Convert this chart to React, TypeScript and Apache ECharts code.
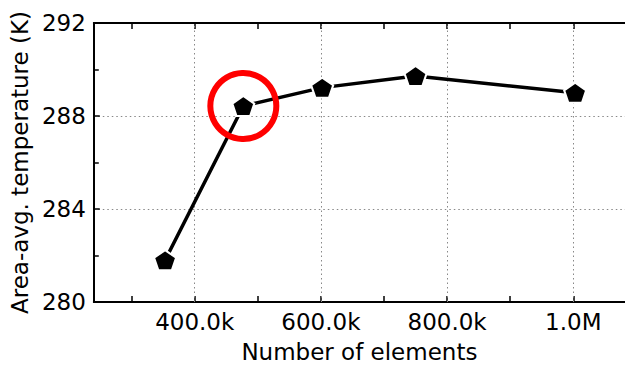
import React, { useEffect, useRef } from "react";
import * as echarts from "echarts";

const elements = [353000, 477000, 602000, 750000, 1003000];
const temperature = [281.8, 288.43, 289.22, 289.72, 289.0];
const highlighted = [[477000, 288.43]];
const xTickValues = [300000, 400000, 500000, 600000, 700000, 800000, 900000, 1000000];
const xLabelValues = [400000, 600000, 800000, 1000000];
const xLabelText: Record<number, string> = { 400000: "400.0k", 600000: "600.0k", 800000: "800.0k", 1000000: "1.0M" };

const FONT = "DejaVu Sans";
const PENTAGON = "path://M0,-1 L0.951,-0.309 L0.588,0.809 L-0.588,0.809 L-0.951,-0.309 Z";

export default function App() {
  const ref = useRef<HTMLDivElement>(null);
  useEffect(() => {
    const chart = echarts.init(ref.current!, null, { renderer: "svg" });
    const xMin = 240000;
    const xMax = 1082000;
    chart.setOption({
      animation: false,
      backgroundColor: "#fff",
      grid: { left: 93, top: 23, bottom: 69, right: 0 },
      xAxis: [
        {
          type: "value",
          position: "bottom",
          min: xMin,
          max: xMax,
          name: "Number of elements",
          nameLocation: "middle",
          nameGap: 38,
          nameTextStyle: { fontFamily: FONT, fontSize: 23, color: "#000" },
          axisLine: { show: true, lineStyle: { color: "#000", width: 2 } },
          axisTick: { show: true, inside: true, length: 6, customValues: xTickValues, lineStyle: { color: "#000", width: 1.5 } },
          axisLabel: {
            show: true,
            customValues: xLabelValues,
            formatter: (v: number) => xLabelText[v] ?? "",
            fontFamily: FONT,
            fontSize: 23,
            color: "#000",
            margin: 8,
          },
          splitLine: { show: false },
        },
        {
          type: "value",
          position: "top",
          min: xMin,
          max: xMax,
          axisLine: { show: true, lineStyle: { color: "#000", width: 2 } },
          axisTick: { show: true, inside: true, length: 6, customValues: xTickValues, lineStyle: { color: "#000", width: 1.5 } },
          axisLabel: { show: false },
          splitLine: { show: false },
        },
      ],
      yAxis: {
        type: "value",
        min: 280,
        max: 292,
        interval: 4,
        name: "Area-avg. temperature (K)",
        nameLocation: "middle",
        nameGap: 58,
        nameTextStyle: { fontFamily: FONT, fontSize: 23, color: "#000" },
        axisLine: { show: true, lineStyle: { color: "#000", width: 2 } },
        axisTick: { show: true, inside: true, length: 6, lineStyle: { color: "#000", width: 1.5 } },
        minorTick: { show: true, splitNumber: 2, length: 5, lineStyle: { color: "#000", width: 1.5 } },
        axisLabel: { fontFamily: FONT, fontSize: 23, color: "#000", margin: 8 },
        splitLine: { show: true, lineStyle: { color: "#888", type: [1.5, 3], width: 1 } },
      },
      series: [
        {
          type: "line",
          data: elements.map((x, i) => [x, temperature[i]]),
          symbol: PENTAGON,
          symbolSize: [22, 21],
          symbolKeepAspect: true,
          lineStyle: { color: "#000", width: 3.5 },
          itemStyle: { color: "#000", borderColor: "#fff", borderWidth: 2 },
          z: 3,
          markLine: {
            silent: true,
            symbol: "none",
            label: { show: false },
            lineStyle: { color: "#888", type: [1.5, 3], width: 1 },
            data: xLabelValues.map((v) => ({ xAxis: v })),
            z: 1,
          },
        },
        {
          type: "scatter",
          data: highlighted,
          symbol: "circle",
          symbolSize: 66,
          itemStyle: { color: "rgba(0,0,0,0)", borderColor: "#ff0000", borderWidth: 6, opacity: 1 },
          z: 4,
        },
      ],
    });
    return () => chart.dispose();
  }, []);
  return <div ref={ref} style={{ position: "absolute", left: 0, top: 0, width: 625, height: 371 }} />;
}
